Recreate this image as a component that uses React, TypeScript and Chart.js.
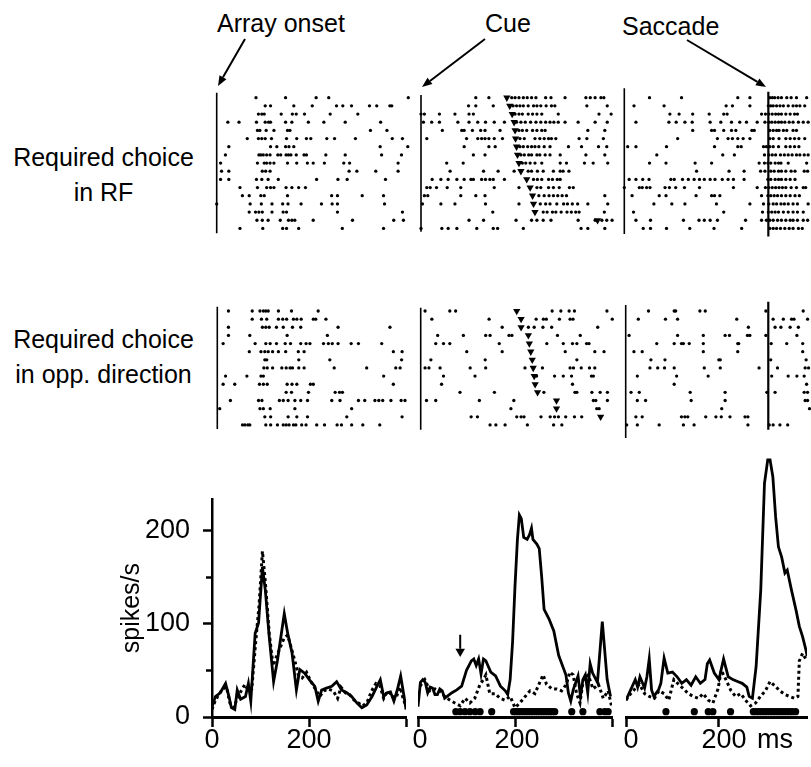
import React, { useEffect, useRef } from "react";
import { Chart, registerables } from "chart.js";

Chart.register(...registerables);

const FONT = '"Liberation Sans", Arial, Helvetica, sans-serif';
Chart.defaults.font.family = FONT;
Chart.defaults.color = "#000";

// ---------------- Raster data: spike times (ms) per trial ----------------
// Required choice in RF — aligned on array onset
const rfArraySpikes: number[][] = [
  [81, 142, 205, 231, 395],
  [100, 111, 159, 197, 247, 260, 278, 315, 330, 357, 361],
  [86, 93, 98, 133, 156, 164, 181, 234, 291],
  [23, 46, 82, 100, 107, 111, 142, 155, 189, 221, 265, 338],
  [84, 89, 102, 118, 146, 151, 317, 351],
  [63, 86, 93, 100, 113, 144, 165, 185, 194, 227, 243, 286, 362, 383],
  [25, 111, 124, 142, 149, 159, 337, 394],
  [18, 87, 91, 96, 103, 110, 126, 132, 143, 148, 153, 164, 180, 185, 225, 265, 340, 381],
  [8, 84, 98, 103, 110, 118, 146, 165, 187, 199, 222, 262, 274, 374],
  [10, 25, 94, 101, 110, 273, 289, 328, 374],
  [8, 25, 82, 93, 106, 127, 206, 250, 269, 348],
  [48, 84, 103, 111, 118, 143, 155, 169, 183],
  [53, 67, 91, 98, 146, 237, 249, 300, 344],
  [0, 69, 92, 114, 136, 147, 174, 216, 238, 249, 346],
  [67, 80, 87, 94, 114, 137, 144, 249, 383],
  [83, 94, 106, 131, 148, 155, 161, 199, 280, 365, 385],
  [48, 95, 136, 144, 169, 259, 344],
];
// Required choice in RF — aligned on cue
const rfCueSpikes: number[][] = [
  [113, 140, 187, 194, 202, 211, 219, 228, 237, 257, 268, 297, 340, 349, 359, 371, 377],
  [98, 113, 149, 190, 197, 204, 211, 221, 232, 239, 247, 258, 269, 276, 342, 384],
  [0, 7, 38, 70, 99, 108, 194, 202, 209, 221, 230, 239, 249, 283, 367, 392],
  [5, 22, 38, 76, 99, 117, 133, 151, 172, 197, 206, 215, 226, 237, 247, 257, 266, 274, 283, 297, 324, 359, 384],
  [44, 84, 89, 106, 123, 132, 163, 202, 209, 218, 230, 239, 249, 256, 344, 379],
  [12, 94, 117, 125, 132, 140, 151, 168, 204, 213, 235, 245, 254, 263, 269, 278, 326, 342, 376],
  [89, 140, 153, 204, 211, 220, 228, 235, 243, 254, 266, 304, 331, 366, 383],
  [108, 132, 206, 213, 222, 228, 239, 245, 256, 266, 287, 340, 379],
  [53, 87, 209, 216, 225, 235, 249, 287, 300, 337, 355, 385],
  [60, 129, 159, 192, 221, 228, 240, 252, 273, 287, 293, 305],
  [23, 41, 56, 74, 89, 103, 108, 125, 133, 142, 149, 172, 232, 240, 249, 263, 271, 281, 287],
  [12, 19, 32, 54, 82, 151, 202, 239, 247, 263, 273, 285, 306, 314],
  [7, 14, 82, 113, 132, 243, 254, 264, 273, 282, 291, 300, 379],
  [3, 41, 70, 133, 202, 246, 257, 266, 280, 294, 302, 312, 323, 344, 385],
  [148, 235, 252, 260, 271, 278, 289, 301, 310, 319, 326, 378],
  [99, 129, 196, 228, 239, 252, 268, 324, 359, 373, 383, 394],
  [0, 43, 56, 74, 115, 149, 158, 211, 330, 344, 379],
];
const rfCueMarks: (number | null)[] = [177, 183, 188, 192, 194, 195, 197, 199, 202, 206, 218, 225, 230, 232, 235, 364, null];
// Required choice in RF — saccade epoch
const rfSaccSpikes: number[][] = [
  [52, 118, 234, 259, 300, 305, 310, 317, 324, 335, 344, 355, 376],
  [20, 82, 210, 223, 259, 297, 302, 307, 314, 321, 328, 338, 348, 355, 362, 372],
  [94, 113, 141, 175, 205, 212, 283, 291, 298, 305, 312, 318, 324, 333, 342, 351, 357],
  [24, 92, 107, 125, 140, 177, 199, 221, 238, 252, 274, 290, 298, 304, 311, 318, 324, 331, 340, 348, 359, 369, 379],
  [141, 180, 186, 205, 221, 230, 263, 268, 300, 307, 314, 319, 328, 335, 348, 355],
  [110, 192, 214, 223, 234, 245, 259, 300, 307, 319, 333, 342, 351, 360, 372],
  [7, 24, 87, 186, 234, 241, 287, 293, 300, 307, 318, 333, 342, 351, 360],
  [67, 203, 227, 289, 298, 305, 312, 322, 330, 338, 346, 355, 362, 371, 379],
  [52, 86, 146, 180, 278, 289, 296, 302, 311, 318, 323, 338, 376],
  [149, 216, 247, 281, 290, 302, 309, 318, 324, 333, 344, 352, 371, 378],
  [10, 24, 38, 51, 96, 103, 120, 132, 144, 155, 165, 177, 187, 202, 214, 225, 247, 296, 302, 311, 318, 324, 333, 342, 352],
  [0, 31, 37, 46, 53, 84, 93, 106, 124, 155, 225, 274, 291, 298, 305, 312, 319, 326, 333, 344, 355, 369, 374],
  [16, 72, 86, 148, 180, 186, 197, 283, 296, 302, 309, 316, 324, 333, 342, 352, 361],
  [61, 98, 125, 190, 259, 287, 298, 307, 314, 323, 330, 338, 348, 357, 379],
  [19, 205, 285, 297, 304, 311, 318, 328, 338, 348, 357, 369],
  [24, 54, 122, 154, 165, 177, 192, 250, 283, 293, 300, 307, 316, 324, 333, 342, 348, 357, 369, 378],
  [39, 54, 87, 135, 185, 242, 300, 307, 314, 322, 331, 340, 348, 359, 367],
];
const rfSaccadeTime = 297;

// Required choice in opposite direction — aligned on array onset
const oppArraySpikes: number[][] = [
  [23, 72, 88, 95, 100, 105, 126, 153, 208],
  [72, 91, 102, 126, 135, 143, 157, 164, 173, 198, 203, 224],
  [23, 93, 100, 107, 122, 136, 155, 172, 249, 356],
  [23, 67, 144, 227],
  [12, 78, 100, 109, 122, 140, 151, 172, 183, 191, 219, 229, 237, 249, 276, 291, 339],
  [66, 90, 98, 105, 114, 126, 141, 167, 179, 363, 381],
  [98, 102, 168, 232, 380],
  [96, 103, 114, 133, 142, 150, 155, 168, 179, 241, 308, 368, 377],
  [17, 61, 90, 95, 343],
  [12, 36, 87, 95, 103, 144, 154, 164, 192, 198, 363],
  [142, 153, 188, 243, 252, 258],
  [27, 85, 92, 128, 136, 146, 160, 172, 186, 236, 253, 291, 304, 325, 333, 341, 358, 379, 387],
  [5, 88, 95, 109, 160, 277],
  [98, 110, 146, 164, 186, 267, 381],
  [52, 57, 63, 67, 100, 110, 124, 136, 142, 148, 157, 162, 174, 183, 205, 221, 247, 256, 277, 300, 335],
];
// Opposite direction — aligned on cue
const oppCueSpikes: number[][] = [
  [9, 60, 72, 271, 289, 306, 317, 384],
  [23, 141, 238, 253, 259, 286, 308, 314, 395],
  [168, 222, 234, 252, 270, 365],
  [35, 88, 134, 143, 182, 188, 282, 329],
  [31, 47, 60, 162, 260, 294, 313, 322, 342, 347],
  [95, 168, 298, 359, 378],
  [21, 133, 322],
  [9, 17, 40, 102, 134, 215, 251, 308, 315, 331, 348, 359],
  [47, 112, 239, 276, 294, 311, 352, 356],
  [43, 313],
  [81, 152, 254, 318, 322, 353, 370, 385],
  [12, 31, 121, 192, 356, 361, 385],
  [186, 363, 368],
  [104, 117, 198, 207, 213, 248, 267, 276, 284, 299, 317, 332],
  [143, 155, 174, 220, 274, 291],
];
const oppCueMarks: (number | null)[] = [198, 207, 207, 222, 224, 227, 230, 232, 234, 236, 241, 280, 280, 371, null];
// Opposite direction — saccade epoch
const oppSaccSpikes: number[][] = [
  [47, 100, 103, 153, 164, 289, 366],
  [26, 82, 107, 229, 304, 325, 342, 347, 375],
  [253, 308, 320, 339, 356],
  [7, 107, 160, 205, 214, 251, 256, 289, 353],
  [64, 100, 115, 119, 131, 160, 231, 233, 300, 332, 365],
  [17, 34, 160, 231, 365],
  [52, 81, 192, 195, 299, 372],
  [50, 66, 80, 100, 162, 195, 275, 313, 370, 377],
  [24, 105, 170, 301, 335, 353, 368],
  [100, 373],
  [11, 28, 133, 205, 291, 308, 368, 375],
  [24, 41, 135, 205, 370, 375],
  [198, 379],
  [21, 34, 115, 122, 128, 165, 186, 197, 215, 246, 252],
  [2, 24, 69, 119, 141, 252, 296, 304, 318, 334],
];
const oppSaccadeTime = 294;

// ---------------- PSTH data (spikes/s) ----------------
const arrayRFTimes = [0, 7, 17, 28, 35, 40, 47, 52, 59, 69, 75, 80, 89, 96, 104, 110, 118, 127, 135, 142, 149, 156, 165, 174, 181, 191, 201, 212, 219, 226, 236, 247, 257, 267, 278, 288, 299, 309, 319, 330, 340, 347, 354, 361, 368, 375, 382, 389, 396, 400];
const arrayRFRates = [11, 22, 26, 36, 22, 10, 8, 29, 19, 22, 36, 17, 90, 101, 161, 136, 86, 38, 61, 86, 111, 90, 69, 29, 51, 47, 40, 33, 17, 29, 31, 33, 38, 29, 26, 22, 15, 10, 13, 22, 33, 40, 22, 26, 27, 17, 29, 44, 22, 8];
const arrayOppTimes = [0, 7, 15, 22, 30, 37, 45, 52, 60, 68, 75, 82, 90, 97, 104, 110, 118, 126, 133, 141, 149, 156, 163, 171, 178, 186, 195, 204, 213, 222, 231, 240, 250, 259, 266, 275, 284, 293, 302, 311, 320, 329, 338, 346, 354, 362, 370, 379, 388, 395, 400];
const arrayOppRates = [8, 18, 25, 30, 32, 15, 10, 20, 28, 35, 28, 30, 80, 120, 178, 145, 90, 55, 65, 75, 85, 88, 75, 60, 45, 42, 48, 38, 30, 22, 28, 30, 28, 20, 32, 26, 24, 18, 15, 12, 16, 28, 36, 34, 20, 28, 24, 20, 32, 18, 12];

const cueRFTimes = [0, 5, 10, 15, 20, 25, 30, 35, 40, 45, 50, 55, 60, 70, 80, 90, 100, 105, 110, 115, 120, 125, 130, 135, 140, 150, 160, 170, 180, 185, 190, 195, 200, 205, 209, 213, 218, 225, 230, 234, 237, 245, 250, 255, 260, 270, 280, 290, 300, 305, 310, 315, 320, 330, 335, 340, 345, 350, 355, 360, 370, 380, 390, 397];
const cueRFRates = [11, 37, 40, 37, 26, 32, 31, 24, 24, 30, 28, 20, 22, 26, 29, 33, 50, 55, 60, 62, 55, 62, 46, 62, 60, 48, 44, 33, 28, 24, 40, 80, 140, 190, 216, 212, 192, 190, 195, 202, 190, 185, 180, 150, 115, 105, 92, 66, 52, 45, 26, 17, 29, 44, 22, 40, 45, 26, 57, 47, 37, 102, 40, 22];
const cueOppTimes = [4, 14, 25, 35, 45, 55, 66, 76, 87, 97, 107, 117, 128, 135, 140, 148, 159, 169, 179, 190, 200, 210, 221, 231, 241, 252, 258, 265, 276, 286, 296, 306, 313, 320, 327, 334, 341, 351, 361, 372, 382, 392, 399];
const cueOppRates = [33, 40, 28, 30, 28, 22, 18, 15, 12, 20, 15, 20, 35, 40, 45, 25, 25, 20, 18, 22, 10, 15, 22, 28, 25, 38, 45, 35, 30, 30, 28, 35, 48, 45, 25, 15, 40, 45, 30, 35, 20, 28, 12];

const saccRFTimes = [0, 10, 20, 25, 30, 40, 45, 50, 55, 60, 70, 75, 82, 90, 100, 110, 120, 130, 140, 150, 160, 170, 175, 180, 190, 200, 210, 220, 230, 240, 250, 260, 265, 272, 280, 290, 298, 305, 310, 316, 322, 328, 335, 342, 347, 356, 366, 373, 380, 387, 390];
const saccRFRates = [18, 29, 40, 32, 43, 31, 43, 62, 29, 22, 29, 36, 63, 47, 48, 43, 36, 40, 34, 43, 36, 40, 57, 61, 47, 40, 62, 43, 40, 38, 36, 32, 22, 20, 54, 136, 250, 275, 275, 257, 214, 182, 171, 154, 157, 136, 114, 97, 86, 72, 65];
const saccOppTimes = [0, 10, 19, 29, 40, 50, 61, 71, 82, 92, 103, 113, 124, 134, 145, 156, 166, 177, 187, 198, 205, 215, 226, 236, 247, 257, 268, 279, 289, 300, 310, 321, 331, 342, 352, 363, 370, 373, 380, 387, 390];
const saccOppRates = [18, 25, 30, 35, 25, 22, 20, 28, 25, 18, 40, 35, 30, 25, 22, 20, 25, 18, 15, 30, 50, 40, 28, 22, 25, 18, 12, 15, 22, 28, 38, 33, 28, 24, 22, 20, 22, 60, 68, 62, 60];

// significant-difference bins (ms)
const cueSigTimes = [78, 87, 97, 107, 118, 128, 152, 197, 202, 207, 212, 217, 222, 227, 232, 237, 242, 247, 252, 257, 262, 267, 272, 277, 282, 317, 340, 375, 385, 392];
const saccSigTimes = [86, 147, 177, 187, 225, 274, 280, 286, 292, 298, 304, 310, 316, 322, 328, 334, 340, 346, 352, 358, 365];
const sigLevel = 5.7;
const cueArrowTime = 87;
const cueArrowTop = 88;
const cueArrowTip = 70;

// tick labels
const xTickValues = [0, 200, 400];
const xTickLabels = ["0", "200", ""];
const yTickValues = [0, 100, 200];
const yMinorTickValues = [50, 150];

// ---------------- helpers ----------------
type Box = { left: number; top: number; width: number; height: number };
type Pad = { left: number; right: number; top: number; bottom: number };

function PlacedChart({ box, config }: { box: Box; config: any }) {
  const ref = useRef<HTMLCanvasElement | null>(null);
  useEffect(() => {
    if (!ref.current) return;
    const chart = new Chart(ref.current, config);
    return () => chart.destroy();
  }, []);
  return (
    <canvas
      ref={ref}
      width={box.width}
      height={box.height}
      style={{ position: "absolute", left: box.left, top: box.top, width: box.width, height: box.height }}
    />
  );
}

const PX_PER_MS = 0.485;

type EventLine = { t: number; r0: number; r1: number; w: number };
type RasterSpec = {
  t0x: number;
  tMax: number;
  trials: number[][];
  marks: (number | null)[] | null;
  lines: EventLine[];
};
type RowGeo = { y0: number; y1: number; rMin: number; rMax: number };

const T_MIN = -6;

function rasterBox(p: RasterSpec, row: RowGeo): { box: Box; padding: Pad } {
  const x0 = p.t0x + T_MIN * PX_PER_MS;
  const x1 = p.t0x + p.tMax * PX_PER_MS;
  const left = Math.floor(x0) - 6;
  const top = Math.floor(row.y0) - 6;
  const right = Math.ceil(x1) + 6;
  const bottom = Math.ceil(row.y1) + 6;
  return {
    box: { left, top, width: right - left, height: bottom - top },
    padding: { left: x0 - left, right: right - x1, top: row.y0 - top, bottom: bottom - row.y1 },
  };
}

function rasterConfig(p: RasterSpec, row: RowGeo, padding: Pad) {
  const datasets: any[] = [];
  datasets.push({
    type: "scatter",
    data: p.trials.flatMap((ts, i) => ts.map((t) => ({ x: t, y: i }))),
    pointRadius: 1.65,
    pointBackgroundColor: "#000",
    pointBorderWidth: 0,
    pointHoverRadius: 0,
    clip: false,
  });
  if (p.marks) {
    datasets.push({
      type: "scatter",
      data: p.marks.map((t, i) => (t == null ? null : { x: t, y: i })).filter((d) => d !== null),
      pointStyle: "triangle",
      rotation: 180,
      pointRadius: 4.2,
      pointBackgroundColor: "#000",
      pointBorderWidth: 0,
      clip: false,
    });
  }
  for (const l of p.lines) {
    datasets.push({
      type: "line",
      showLine: true,
      data: [
        { x: l.t, y: l.r0 },
        { x: l.t, y: l.r1 },
      ],
      borderColor: "#000",
      borderWidth: l.w,
      pointRadius: 0,
      clip: false,
    });
  }
  return {
    type: "scatter",
    data: { datasets },
    options: {
      responsive: false,
      animation: false,
      events: [],
      layout: { padding },
      plugins: { legend: { display: false }, tooltip: { enabled: false } },
      scales: {
        x: { type: "linear", display: false, min: T_MIN, max: p.tMax },
        y: { type: "linear", display: false, min: row.rMin, max: row.rMax, reverse: true },
      },
    },
  };
}

const RF_ROW: RowGeo = { y0: 87.9, y1: 238.2, rMin: -1.2, rMax: 17.2 };
const OPP_ROW: RowGeo = { y0: 299.6, y1: 441.2, rMin: -1.4, rMax: 16 };

const rasterPanels: { spec: RasterSpec; row: RowGeo }[] = [
  { row: RF_ROW, spec: { t0x: 216.7, tMax: 400, trials: rfArraySpikes, marks: null, lines: [{ t: 0, r0: -0.61, r1: 16.6, w: 1.6 }] } },
  { row: RF_ROW, spec: { t0x: 421, tMax: 400, trials: rfCueSpikes, marks: rfCueMarks, lines: [{ t: 0, r0: -0.33, r1: 16.4, w: 1.6 }] } },
  {
    row: RF_ROW,
    spec: {
      t0x: 624.3, tMax: 385, trials: rfSaccSpikes, marks: null,
      lines: [{ t: 0, r0: -1.15, r1: 16.7, w: 1.6 }, { t: rfSaccadeTime, r0: -0.73, r1: 17.0, w: 2.2 }],
    },
  },
  { row: OPP_ROW, spec: { t0x: 217.3, tMax: 400, trials: oppArraySpikes, marks: null, lines: [{ t: 0, r0: -0.53, r1: 14.5, w: 1.6 }] } },
  { row: OPP_ROW, spec: { t0x: 420.7, tMax: 400, trials: oppCueSpikes, marks: oppCueMarks, lines: [{ t: 0, r0: -0.4, r1: 14.6, w: 1.6 }] } },
  {
    row: OPP_ROW,
    spec: {
      t0x: 625.7, tMax: 385, trials: oppSaccSpikes, marks: null,
      lines: [{ t: 0, r0: -0.74, r1: 15.6, w: 1.6 }, { t: oppSaccadeTime, r0: -1.14, r1: 14.6, w: 2.2 }],
    },
  },
];

const TICK_FONT = { family: FONT, size: 27 };

function toPoints(times: number[], rates: number[]) {
  return times.map((t, i) => ({ x: t, y: rates[i] }));
}

function psthConfig(o: {
  rf: { x: number; y: number }[];
  opp: { x: number; y: number }[];
  xMax: number;
  yMax: number;
  showY: boolean;
  sig?: number[];
  arrow?: boolean;
  labelOffset?: number;
  padding: Pad;
}) {
  const datasets: any[] = [
    {
      type: "line",
      data: o.opp,
      borderColor: "#000",
      borderWidth: 3,
      borderDash: [3, 3],
      pointRadius: 0,
      tension: 0,
    },
    {
      type: "line",
      data: o.rf,
      borderColor: "#000",
      borderWidth: 2.8,
      pointRadius: 0,
      tension: 0,
      borderJoinStyle: "miter",
    },
  ];
  if (o.sig) {
    datasets.push({
      type: "scatter",
      data: o.sig.map((t) => ({ x: t, y: sigLevel })),
      pointRadius: 3.6,
      pointBackgroundColor: "#000",
      pointBorderWidth: 0,
      clip: false,
    });
  }
  if (o.arrow) {
    datasets.push({
      type: "line",
      showLine: true,
      data: [
        { x: cueArrowTime, y: cueArrowTop },
        { x: cueArrowTime, y: cueArrowTip + 3 },
      ],
      borderColor: "#000",
      borderWidth: 2,
      pointRadius: 0,
    });
    datasets.push({
      type: "scatter",
      data: [{ x: cueArrowTime, y: cueArrowTip }],
      pointStyle: "triangle",
      rotation: 180,
      pointRadius: 5.5,
      pointBackgroundColor: "#000",
      pointBorderWidth: 0,
    });
  }
  const scales: any = {
    x: {
      type: "linear",
      min: 0,
      max: o.xMax,
      position: "bottom",
      afterFit: (s: any) => {
        s.height = 45;
      },
      afterBuildTicks: (s: any) => {
        s.ticks = xTickValues.filter((v) => v <= o.xMax).map((v) => ({ value: v }));
      },
      ticks: {
        autoSkip: false,
        font: TICK_FONT,
        color: "#000",
        padding: -3,
        maxRotation: 0,
        labelOffset: o.labelOffset ?? 0,
        callback: (v: number) => xTickLabels[xTickValues.indexOf(v)] ?? "",
      },
      grid: { display: true, drawOnChartArea: false, drawTicks: true, tickLength: 10, tickWidth: 2.5, color: "#000" },
      border: { display: true, width: 3, color: "#000" },
    },
  };
  if (o.showY) {
    scales.y = {
      type: "linear",
      min: 0,
      max: o.yMax,
      position: "left",
      weight: 1,
      afterFit: (s: any) => {
        s.width = 95;
      },
      afterBuildTicks: (s: any) => {
        s.ticks = yTickValues.map((v) => ({ value: v }));
      },
      ticks: { autoSkip: false, font: TICK_FONT, color: "#000", padding: 13 },
      grid: { display: true, drawOnChartArea: false, drawTicks: true, tickLength: 9, tickWidth: 2.5, color: "#000" },
      border: { display: true, width: 2.5, color: "#000" },
      title: { display: true, text: "spikes/s", font: { family: FONT, size: 25 }, color: "#000", padding: { top: 0, bottom: 0 } },
    };
    scales.yMinor = {
      type: "linear",
      min: 0,
      max: o.yMax,
      position: "left",
      weight: 0,
      afterFit: (s: any) => {
        s.width = 0;
      },
      afterBuildTicks: (s: any) => {
        s.ticks = yMinorTickValues.map((v) => ({ value: v }));
      },
      ticks: { display: false },
      grid: { display: true, drawOnChartArea: false, drawTicks: true, tickLength: 6, tickWidth: 2.5, color: "#000" },
      border: { display: false },
    };
  } else {
    scales.y = { type: "linear", min: 0, max: o.yMax, display: false };
  }
  return {
    type: "line",
    data: { datasets },
    options: {
      responsive: false,
      animation: false,
      events: [],
      layout: { padding: o.padding },
      plugins: { legend: { display: false }, tooltip: { enabled: false } },
      scales,
    },
  };
}

// PSTH geometry (0 spikes/s at y=717, 0.935 px per spike/s)
const psthPanels = [
  {
    box: { left: 117, top: 470, width: 299, height: 292 },
    config: psthConfig({
      rf: toPoints(arrayRFTimes, arrayRFRates),
      opp: toPoints(arrayOppTimes, arrayOppRates),
      xMax: 400,
      yMax: 234,
      showY: true,
      padding: { left: 0, right: 10, top: 28.2, bottom: 0 },
    }),
  },
  {
    box: { left: 400, top: 440, width: 222, height: 322 },
    config: psthConfig({
      rf: toPoints(cueRFTimes, cueRFRates),
      opp: toPoints(cueOppTimes, cueOppRates),
      xMax: 400,
      yMax: 280,
      showY: false,
      sig: cueSigTimes,
      arrow: true,
      labelOffset: 2,
      padding: { left: 18, right: 10, top: 15.2, bottom: 0 },
    }),
  },
  {
    box: { left: 608, top: 440, width: 203, height: 322 },
    config: psthConfig({
      rf: toPoints(saccRFTimes, saccRFRates),
      opp: toPoints(saccOppTimes, saccOppRates),
      xMax: 389.5,
      yMax: 280,
      showY: false,
      sig: saccSigTimes,
      labelOffset: 5,
      padding: { left: 18, right: 0, top: 15.2, bottom: 0 },
    }),
  },
];

function arrowPath(x1: number, y1: number, x2: number, y2: number) {
  const dx = x2 - x1;
  const dy = y2 - y1;
  const len = Math.hypot(dx, dy);
  const ux = dx / len;
  const uy = dy / len;
  const hl = 10;
  const hw = 4;
  const bx = x2 - ux * hl;
  const by = y2 - uy * hl;
  const poly = `${x2},${y2} ${bx - uy * hw},${by + ux * hw} ${bx + uy * hw},${by - ux * hw}`;
  return (
    <g key={`${x1}-${y1}`}>
      <line x1={x1} y1={y1} x2={bx} y2={by} stroke="#000" strokeWidth={2} />
      <polygon points={poly} fill="#000" />
    </g>
  );
}

function Text({ x, baseline, size = 25, children }: { x: number; baseline: number; size?: number; children: React.ReactNode }) {
  return (
    <div
      style={{
        position: "absolute",
        left: x,
        top: baseline - 0.85 * size,
        fontSize: size,
        lineHeight: `${size}px`,
        whiteSpace: "nowrap",
      }}
    >
      {children}
    </div>
  );
}

export default function App() {
  return (
    <div
      style={{
        position: "absolute",
        left: 0,
        top: 0,
        width: 811,
        height: 767,
        overflow: "hidden",
        background: "#fff",
        fontFamily: FONT,
        color: "#000",
      }}
    >
      <Text x={217} baseline={32}>Array onset</Text>
      <Text x={485} baseline={32}>Cue</Text>
      <Text x={622} baseline={35}>Saccade</Text>

      <div
        style={{
          position: "absolute",
          left: 3.5,
          width: 200,
          top: 139.6,
          fontSize: 25,
          lineHeight: "35.5px",
          textAlign: "center",
        }}
      >
        Required choice
        <br />
        in RF
      </div>
      <div
        style={{
          position: "absolute",
          left: 3.5,
          width: 200,
          top: 321.6,
          fontSize: 25,
          lineHeight: "35.5px",
          textAlign: "center",
        }}
      >
        Required choice
        <br />
        in opp. direction
      </div>

      <svg width={811} height={767} style={{ position: "absolute", left: 0, top: 0, pointerEvents: "none" }}>
        {arrowPath(245, 39, 218, 86)}
        {arrowPath(485, 39, 422, 87)}
        {arrowPath(687, 40, 766, 87)}
      </svg>

      {rasterPanels.map((p, i) => {
        const { box, padding } = rasterBox(p.spec, p.row);
        return <PlacedChart key={`r${i}`} box={box} config={rasterConfig(p.spec, p.row, padding)} />;
      })}
      {psthPanels.map((p, i) => (
        <PlacedChart key={`p${i}`} box={p.box} config={p.config} />
      ))}
      <Text x={757} baseline={749} size={27}>ms</Text>
    </div>
  );
}
